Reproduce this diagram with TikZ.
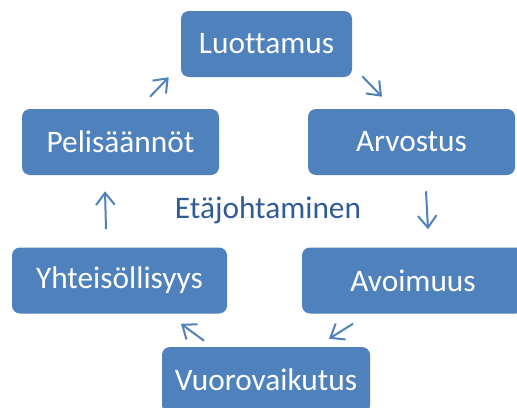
\documentclass[tikz,border=0pt]{standalone}
\usepackage{fontspec}
\setmainfont[Ligatures=NoCommon]{Carlito}
\usepackage{xcolor}
\usetikzlibrary{arrows.meta,calc}

\definecolor{boxblue}{HTML}{4F81BD}
\definecolor{textblue}{HTML}{2F5B97}

\begin{document}
\begin{tikzpicture}[x=0.75pt,y=-0.75pt]
\tikzset{every node/.append style={inner sep=0pt},
  stage/.style={fill=boxblue,rounded corners=6pt,text=white,minimum height=49.5pt,
    font=\fontsize{23.5}{28}\selectfont},
  flow/.style={draw=boxblue,line width=1.5pt,-{Straight Barb[length=9pt,width=14pt,line width=1.5pt]}}}
\useasboundingbox (0,0) rectangle (517,407);
\begin{scope}
\clip (0,0) rectangle (517,407);
\node[stage,minimum width=128.25pt] (luo) at (266.5,44) {Luottamus};
\node[stage,minimum width=155.25pt] (arv) at (411.5,142) {Arvostus};
\node[stage,minimum width=166.5pt] (avo) at (413,280.5) {Avoimuus};
\node[stage,minimum width=156pt] (vuo) at (266,380) {Vuorovaikutus};
\node[stage,minimum width=161.25pt] (yht) at (119.5,280.5) {Yhteisöllisyys};
\node[stage,minimum width=147.75pt] (pel) at (120.5,142) {Pelisäännöt};
\end{scope}
\node[text=textblue,font=\fontsize{23.5}{28}\selectfont] (eta) at (268,210) {Etäjohtaminen};
% arrows round the cycle
\draw[flow] ($(pel.north)+(29.5,-12)$) -- ($(luo.south west)+(-12,0)$);
\draw[flow] ($(luo.south east)+(10,-1)$) -- ($(arv.north)+(-29.5,-12)$);
\draw[flow] ($(arv.south)+(14.5,16)$) -- ($(avo.north)+(15,-18)$);
\draw[flow] ($(avo.south)+(-60,10)$) -- ($(vuo.north)+(63,-8)$);
\draw[flow] ($(vuo.north)+(-62,-6)$) -- ($(yht.south)+(61.5,10)$);
\draw[flow] ($(yht.north)+(-13.5,-18)$) -- ($(pel.south)+(-15.5,16)$);
\end{tikzpicture}
\end{document}
